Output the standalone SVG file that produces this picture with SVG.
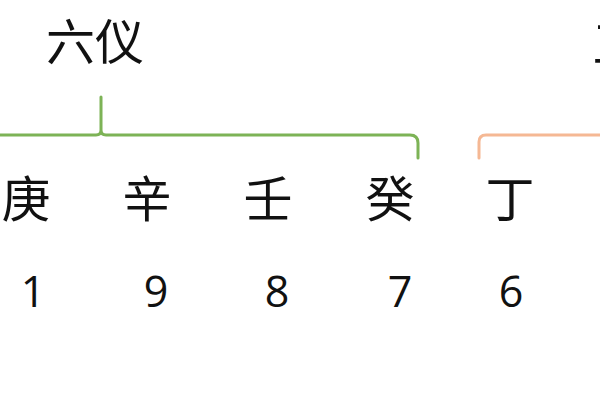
<svg xmlns="http://www.w3.org/2000/svg" width="600" height="400" viewBox="0 0 600 400">
<style>
.cn{font-family:"Noto Sans CJK SC","Noto Sans CJK JP",sans-serif;font-size:49px;fill:#111;text-anchor:middle}
.num{font-family:"Open Sans","Liberation Sans",sans-serif;font-size:43px;fill:#111;text-anchor:middle}
.br{fill:none;stroke-width:3;stroke-linecap:round}
</style>
<rect width="600" height="400" fill="#fff"/>
<g id="title-liuyi"><text class="cn" x="95" y="60">六仪</text></g>
<g id="title-sanqi"><text class="cn" x="592" y="62" style="text-anchor:start">三奇</text></g>
<g id="connectors">
<path class="br" stroke="#7DB356" d="M0,135 H96 Q101,135 101,130 V97 M101,130 Q101,135 106,135 H410 Q418,135 418,143 V158"/>
<path class="br" stroke="#F5B894" d="M600,135 H486 Q479,135 479,142 V158"/>
</g>
<g id="geng"><text class="cn" x="26" y="217">庚</text><text class="num" x="33" y="307">1</text></g>
<g id="xin"><text class="cn" x="147" y="217">辛</text><text class="num" x="156" y="307">9</text></g>
<g id="ren"><text class="cn" x="268" y="217">壬</text><text class="num" x="277" y="307">8</text></g>
<g id="gui"><text class="cn" x="390" y="217">癸</text><text class="num" x="400" y="307">7</text></g>
<g id="ding"><text class="cn" x="510" y="217">丁</text><text class="num" x="511" y="307">6</text></g>
</svg>
